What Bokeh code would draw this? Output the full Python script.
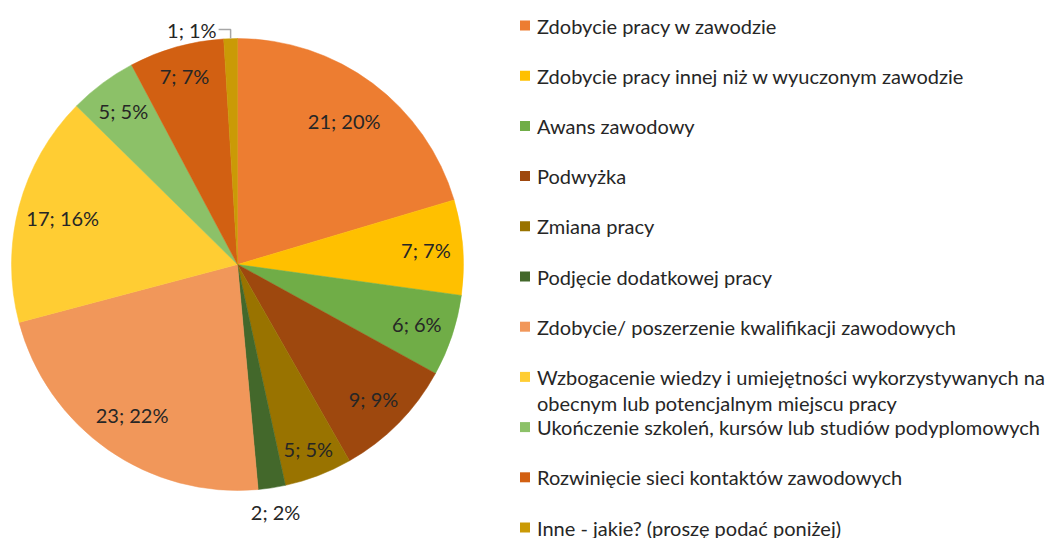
import numpy as np
from bokeh.plotting import figure
from bokeh.models import Range1d
from bokeh.core.properties import value
from bokeh.embed import file_html
from bokeh.resources import INLINE

categories = [
    "Zdobycie pracy w zawodzie",
    "Zdobycie pracy innej niż w wyuczonym zawodzie",
    "Awans zawodowy",
    "Podwyżka",
    "Zmiana pracy",
    "Podjęcie dodatkowej pracy",
    "Zdobycie/ poszerzenie kwalifikacji zawodowych",
    "Wzbogacenie wiedzy i umiejętności wykorzystywanych na\nobecnym lub potencjalnym miejscu pracy",
    "Ukończenie szkoleń, kursów lub studiów podyplomowych",
    "Rozwinięcie sieci kontaktów zawodowych",
    "Inne - jakie? (proszę podać poniżej)",
]
counts = [21, 7, 6, 9, 5, 2, 23, 17, 5, 7, 1]
percents = [20, 7, 6, 9, 5, 2, 22, 16, 5, 7, 1]
colors = ["#ED7D31", "#FFC000", "#70AD47", "#9E480E", "#997300", "#43682B",
          "#F1975A", "#FFCD33", "#8CC168", "#D26012", "#CA9A06"]

# layout (not data)
label_r = [0.79, 0.836, 0.836, 0.845, 0.876, 1.11, 0.814, 0.80, 0.845, 0.865, None]
W, H = 1047, 538
CX, CY, R = 237, H - 264, 226
FONT = value("Lato")

p = figure(width=W, height=H, output_backend="svg", toolbar_location=None,
           x_range=Range1d(0, W), y_range=Range1d(0, H),
           x_axis_type=None, y_axis_type=None, min_border=0)
p.outline_line_color = None
p.xgrid.visible = False
p.ygrid.visible = False

total = float(sum(counts))
cum = np.concatenate([[0], np.cumsum(counts)])
starts = np.pi / 2 - cum[:-1] / total * 2 * np.pi
ends = np.pi / 2 - cum[1:] / total * 2 * np.pi
p.wedge(x=CX, y=CY, radius=R, start_angle=starts, end_angle=ends,
        direction="clock", fill_color=colors, line_color=colors, line_width=0.5)

mids = (cum[:-1] + cum[1:]) / 2 / total * 2 * np.pi  # clockwise from top
labels = [f"{c}; {pc}%" for c, pc in zip(counts, percents)]
lx, ly, lt = [], [], []
for i, (m, rf) in enumerate(zip(mids, label_r)):
    if rf is None:
        continue
    lx.append(CX + rf * R * np.sin(m))
    ly.append(CY + rf * R * np.cos(m))
    lt.append(labels[i])
p.text(x=lx, y=ly, text=lt, text_font=FONT, text_font_size=value("20px"),
       text_color="#262626", text_align="center", text_baseline="middle")

# last label with leader line
m = mids[-1]
ex, ey = CX + R * np.sin(m), CY + R * np.cos(m)
p.line(x=[ex - 12, ex, ex], y=[ey + 9, ey + 9, ey], line_color="#A6A6A6", line_width=1.5)
p.text(x=[ex - 14], y=[ey + 9], text=[labels[-1]], text_font=FONT,
       text_font_size=value("20px"), text_color="#262626",
       text_align="right", text_baseline="middle")

# legend
LX, LY0, LDY = 524.5, H - 25, 50.2
ys = [LY0 - i * LDY for i in range(len(categories))]
p.scatter(x=[LX] * len(categories), y=ys, marker="square", size=10,
          fill_color=colors, line_color=None)
tx, ty, tt = [], [], []
for y, c in zip(ys, categories):
    for j, line in enumerate(c.split("\n")):
        tx.append(LX + 12)
        ty.append(y - j * 26)
        tt.append(line)
p.text(x=tx, y=ty, text=tt, text_font=FONT, text_font_size=value("20px"),
       text_color="#262626", text_align="left", text_baseline="middle")

open("out.html", "w").write(file_html(p, INLINE))
